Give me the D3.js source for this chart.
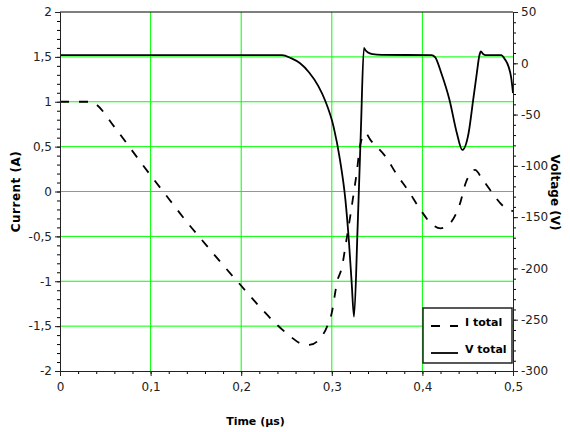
<!DOCTYPE html>
<html>
<head>
<meta charset="utf-8">
<script src="https://d3js.org/d3.v7.min.js"></script>
<style>
  body { margin: 0; background: #fff; }
  text { font-family: "DejaVu Sans", sans-serif; }
</style>
</head>
<body>
<div id="my_dataviz"></div>
<script>
// data
var timeI = [0, 0.035, 0.04, 0.06, 0.08, 0.1, 0.12, 0.14, 0.16, 0.18, 0.2, 0.22, 0.24, 0.255, 0.265, 0.275, 0.285, 0.295, 0.3, 0.306, 0.311, 0.316, 0.32, 0.323, 0.328, 0.331, 0.337, 0.343, 0.36, 0.371, 0.385, 0.397, 0.41, 0.42, 0.43, 0.441, 0.448, 0.458, 0.466, 0.476, 0.49, 0.5];
var currentI = [1, 1, 0.97, 0.72, 0.45, 0.18, -0.08, -0.34, -0.58, -0.82, -1.05, -1.28, -1.49, -1.62, -1.69, -1.71, -1.66, -1.5, -1.35, -1.0, -0.85, -0.55, -0.3, -0.1, 0.25, 0.5, 0.65, 0.57, 0.38, 0.2, 0.0, -0.19, -0.36, -0.41, -0.36, -0.15, 0.1, 0.24, 0.14, 0.0, -0.17, -0.22];

var timeV = [0, 0.245, 0.255, 0.265, 0.275, 0.285, 0.2925, 0.302, 0.309, 0.315, 0.319, 0.322, 0.3245, 0.3285, 0.332, 0.3355, 0.337, 0.34, 0.345, 0.355, 0.41, 0.414, 0.421, 0.43, 0.438, 0.444, 0.451, 0.456, 0.46, 0.463, 0.4645, 0.467, 0.47, 0.487, 0.491, 0.495, 0.498, 0.5];
var voltageV = [8, 8, 5, 0, -9, -22, -36, -62, -94, -133, -175, -215, -247, -160, -68, 15, 13, 10.5, 9, 8.2, 8, 6, -10, -36, -68, -84.5, -68, -36, -10, 8, 11.5, 9, 8, 8, 4, -3, -14, -29];

var xTicks = [0, 0.1, 0.2, 0.3, 0.4, 0.5];
var iTicks = [-2, -1.5, -1, -0.5, 0, 0.5, 1, 1.5, 2];
var vTicks = [-300, -250, -200, -150, -100, -50, 0, 50];
var seriesNames = ["I total", "V total"];

var margin = {top: 12, left: 60, right: 57, bottom: 61}, width = 453, height = 359;

var svg = d3.select("#my_dataviz")
  .append("svg")
    .attr("width", width + margin.left + margin.right)
    .attr("height", height + margin.top + margin.bottom)
  .append("g")
    .attr("transform", "translate(" + margin.left + "," + margin.top + ")");

var x = d3.scaleLinear().domain([0, 0.5]).range([0, width]);
var yI = d3.scaleLinear().domain([-2, 2]).range([height, 0]);
var yV = d3.scaleLinear().domain([-300, 50]).range([height, 0]);

var comma = function(d) { return String(d).replace(".", ","); };

// grid
svg.append("g").selectAll("line")
  .data(xTicks.slice(1, -1))
  .enter().append("line")
    .attr("x1", function(d) { return x(d); }).attr("x2", function(d) { return x(d); })
    .attr("y1", 0).attr("y2", height)
    .attr("stroke", "#00ff00").attr("stroke-width", 1);
svg.append("g").selectAll("line")
  .data(iTicks.slice(1, -1))
  .enter().append("line")
    .attr("x1", 0).attr("x2", width)
    .attr("y1", function(d) { return yI(d); }).attr("y2", function(d) { return yI(d); })
    .attr("stroke", "#00ff00").attr("stroke-width", 1);

// top border
svg.append("line")
  .attr("x1", 0).attr("x2", width).attr("y1", 0).attr("y2", 0)
  .attr("stroke", "#000").attr("stroke-width", 1.2);

svg.append("clipPath").attr("id", "clip")
  .append("rect").attr("x", 0).attr("y", 0).attr("width", width).attr("height", height);

var currentData = timeI.map(function(t, i) { return {t: t, v: currentI[i]}; });
var voltageData = timeV.map(function(t, i) { return {t: t, v: voltageV[i]}; });

var lineI = d3.line().curve(d3.curveMonotoneX)
  .x(function(d) { return x(d.t); })
  .y(function(d) { return yI(d.v); });
var lineV = d3.line().curve(d3.curveMonotoneX)
  .x(function(d) { return x(d.t); })
  .y(function(d) { return yV(d.v); });

svg.append("path")
  .datum(currentData)
  .attr("clip-path", "url(#clip)")
  .attr("fill", "none")
  .attr("stroke", "#000")
  .attr("stroke-width", 1.8)
  .attr("stroke-dasharray", "9,10")
  .attr("d", lineI);

svg.append("path")
  .datum(voltageData)
  .attr("clip-path", "url(#clip)")
  .attr("fill", "none")
  .attr("stroke", "#000")
  .attr("stroke-width", 1.8)
  .attr("d", lineV);

// axes
function styleAxis(g) {
  g.selectAll("text").style("font-family", "DejaVu Sans").style("font-size", "12px").attr("fill", "#222");
  g.selectAll("path, line").attr("stroke", "#222");
}

svg.append("g")
  .attr("transform", "translate(0," + height + ")")
  .call(d3.axisBottom(x).tickValues(d3.range(0, 0.5001, 0.02)).tickSize(3).tickFormat(""))
  .call(function(g) { g.select(".domain").remove(); });
svg.append("g")
  .attr("transform", "translate(0," + height + ")")
  .call(d3.axisBottom(x).tickValues(xTicks).tickSizeOuter(0).tickSize(5).tickPadding(6).tickFormat(comma))
  .call(styleAxis);

svg.append("g")
  .call(d3.axisLeft(yI).tickValues(d3.range(-20, 21).map(function(d) { return d / 10; })).tickSize(3).tickFormat(""))
  .call(function(g) { g.select(".domain").remove(); });
svg.append("g")
  .call(d3.axisLeft(yI).tickValues(iTicks).tickSizeOuter(0).tickSize(5).tickPadding(3).tickFormat(comma))
  .call(styleAxis);

svg.append("g")
  .attr("transform", "translate(" + width + ",0)")
  .call(d3.axisRight(yV).tickValues(d3.range(-300, 51, 10)).tickSize(3).tickFormat(""))
  .call(function(g) { g.select(".domain").remove(); });
svg.append("g")
  .attr("transform", "translate(" + width + ",0)")
  .call(d3.axisRight(yV).tickValues(vTicks).tickSizeOuter(0).tickSize(5).tickPadding(3).tickFormat(comma))
  .call(styleAxis);

// axis titles
svg.append("text")
  .attr("text-anchor", "middle")
  .attr("transform", "translate(" + (-40) + "," + (height / 2) + ") rotate(-90)")
  .style("font-size", "12px").style("font-weight", "bold")
  .style("letter-spacing", "0.5px")
  .text("Current (A)");
svg.append("text")
  .attr("text-anchor", "middle")
  .attr("transform", "translate(" + (width + 38) + "," + (height / 2 + 1) + ") rotate(90)")
  .style("font-size", "12px").style("font-weight", "bold")
  .text("Voltage (V)");
svg.append("text")
  .attr("text-anchor", "middle")
  .attr("x", width / 2 - 31)
  .attr("y", height + 54)
  .style("font-size", "11px").style("font-weight", "bold")
  .text("Time (µs)");

// legend
var legend = svg.append("g").attr("transform", "translate(363,296)");
legend.append("rect")
  .attr("width", 89).attr("height", 55)
  .attr("fill", "#fff").attr("stroke", "#222").attr("stroke-width", 1.5);
legend.selectAll("line.key")
  .data(seriesNames)
  .enter().append("line")
    .attr("class", "key")
    .attr("x1", 8).attr("x2", 35)
    .attr("y1", function(d, i) { return 18 + i * 27; })
    .attr("y2", function(d, i) { return 18 + i * 27; })
    .attr("stroke", "#000").attr("stroke-width", 1.8)
    .attr("stroke-dasharray", function(d, i) { return i === 0 ? "9,10" : null; });
legend.selectAll("text.key")
  .data(seriesNames)
  .enter().append("text")
    .attr("class", "key")
    .attr("x", 42)
    .attr("y", function(d, i) { return 18 + i * 27; })
    .style("font-size", "11px").style("font-weight", "bold")
    .text(function(d) { return d; });
</script>
</body>
</html>
